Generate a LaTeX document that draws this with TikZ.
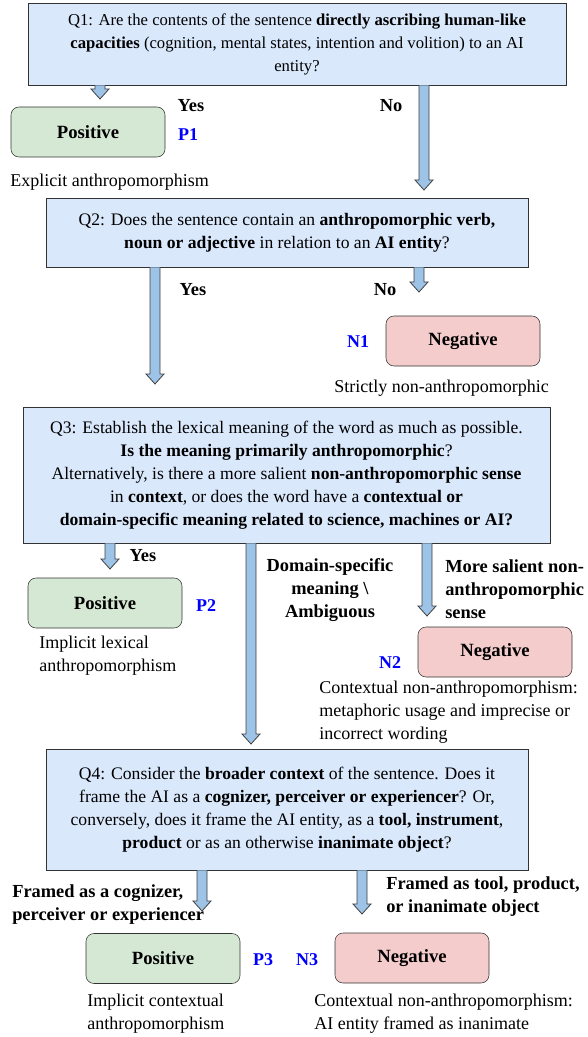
\documentclass[tikz,border=0pt]{standalone}
\usepackage{xcolor}
\usepackage{fontspec}
\setmainfont{Liberation Serif}
\usepackage{tikz}
\usetikzlibrary{calc, positioning}

\definecolor{qblue}{HTML}{DAE8FC}
\definecolor{posgreen}{HTML}{D5E8D4}
\definecolor{negred}{HTML}{F4CCCC}
\definecolor{arrowblue}{HTML}{9DC3E6}
\definecolor{tagblue}{HTML}{0000FF}

% block arrow from #1 down to its tip #2
\newcommand{\blockarrow}[2]{%
  \draw[barrow] let \p1=(#1), \p2=(#2) in
    (\x1-3.75pt,\y1) -- (\x1-3.75pt,\y2+7.5pt) -- (\x1-6.75pt,\y2+7.5pt)
    -- (\x2,\y2) -- (\x1+6.75pt,\y2+7.5pt) -- (\x1+3.75pt,\y2+7.5pt) -- (\x1+3.75pt,\y1);}

\begin{document}
\begin{tikzpicture}[x=0.75pt, y=-0.75pt, font=\fontsize{13.5}{17.25}\selectfont,
    qbox/.style={draw=black!80, fill=qblue, rectangle, align=center, inner sep=0pt, font=\fontsize{13.2}{17.25}\selectfont},
    resbox/.style={draw=black!80, rounded corners=6pt, minimum width=115.5pt, minimum height=37.5pt, font=\fontsize{14}{17.25}\selectfont\bfseries},
    posbox/.style={resbox, fill=posgreen},
    negbox/.style={resbox, fill=negred},
    tag/.style={text=tagblue, font=\fontsize{13.5}{15}\selectfont\bfseries},
    lbl/.style={font=\fontsize{13.8}{17.25}\selectfont\bfseries, align=left, inner sep=0pt},
    note/.style={align=left, inner sep=0pt, anchor=west},
    barrow/.style={draw=black!75, fill=arrowblue, line width=0.6pt, line join=miter}]
  \useasboundingbox (0,0) rectangle (587,1037);

  % questions
  \node[qbox, minimum width=403.5pt, minimum height=61.5pt, font=\fontsize{12.5}{17.25}\selectfont] (q1) at (297,44) {Q1: Are the contents of the sentence \textbf{directly ascribing human-like}\\ \textbf{capacities} (cognition, mental states, intention and volition) to an AI\\ entity?};
  \node[qbox, minimum width=361.5pt, minimum height=51.75pt] (q2) at (287,232.5) {Q2: Does the sentence contain an \textbf{anthropomorphic verb,}\\ \textbf{noun or adjective} in relation to an \textbf{AI entity}?};
  \node[qbox, minimum width=395.25pt, minimum height=102pt] (q3) at (286.5,475) {Q3: Establish the lexical meaning of the word as much as possible.\\ \textbf{Is the meaning primarily anthropomorphic}?\\ Alternatively, is there a more salient \textbf{non-anthropomorphic sense}\\ in \textbf{context}, or does the word have a \textbf{contextual or}\\ \textbf{domain-specific meaning related to science, machines or AI?}};
  \node[qbox, minimum width=361.5pt, minimum height=90.75pt] (q4) at (287,809.5) {Q4: Consider the \textbf{broader context} of the sentence. Does it\\ frame the AI as a \textbf{cognizer, perceiver or experiencer}? Or,\\ conversely, does it frame the AI entity, as a \textbf{tool, instrument},\\ \textbf{product} or as an otherwise \textbf{inanimate object}?};

  % outcomes
  \node[posbox] (pos1) at (88,132) {Positive};
  \node[negbox] (neg1) at (463,341) {Negative};
  \node[posbox] (pos2) at (105,603) {Positive};
  \node[negbox] (neg2) at (495,652) {Negative};
  \node[posbox] (pos3) at (163,958.5) {Positive};
  \node[negbox] (neg3) at (412,958) {Negative};

  \node[tag] (p1) at (188,135) {P1};
  \node[tag] (n1) at (358,342) {N1};
  \node[tag] (p2) at (206,606) {P2};
  \node[tag] (n2) at (390,663) {N2};
  \node[tag] (p3) at (263,960) {P3};
  \node[tag] (n3) at (307,960) {N3};

  \node[note] (d1) at (10,182) {Explicit anthropomorphism};
  \node[note] (d2) at (334,388) {Strictly non-anthropomorphic};
  \node[note] (d3) at (39,656) {Implicit lexical\\ anthropomorphism};
  \node[note] (d4) at (319,712) {Contextual non-anthropomorphism:\\ metaphoric usage and imprecise or\\ incorrect wording};
  \node[note] (d5) at (87,1013.5) {Implicit contextual\\ anthropomorphism};
  \node[note] (d6) at (314,1013.5) {Contextual non-anthropomorphism:\\ AI entity framed as inanimate};

  % answers
  \node[lbl] (yes1) at (191,106) {Yes};
  \node[lbl] (no1) at (391,106) {No};
  \node[lbl] (yes2) at (193,290) {Yes};
  \node[lbl] (no2) at (385,290) {No};
  \node[lbl] (yes3) at (143,556) {Yes};
  \node[lbl, align=center] (amb) at (330,590) {Domain-specific\\ meaning \textbackslash\\ Ambiguous};
  \node[lbl, anchor=west] (sal) at (445,589) {More salient non-\\ anthropomorphic\\ sense};
  \node[lbl, anchor=west] (cog) at (12,904.5) {Framed as a cognizer,\\ perceiver or experiencer};
  \node[lbl, anchor=west] (tool) at (386,896.5) {Framed as tool, product,\\ or inanimate object};

  % arrow tips
  \coordinate (t1) at (100,99);
  \coordinate (t2) at (424,190);
  \coordinate (t3) at (155,384);
  \coordinate (t4) at (419,292);
  \coordinate (t5) at (110,569);
  \coordinate (t6) at (251,744);
  \coordinate (t7) at (427,616);
  \coordinate (t8) at (202,911);
  \coordinate (t9) at (362,914);

  \blockarrow{q1.south -| t1}{t1}
  \blockarrow{q1.south -| t2}{t2}
  \blockarrow{q2.south -| t3}{t3}
  \blockarrow{q2.south -| t4}{t4}
  \blockarrow{q3.south -| t5}{t5}
  \blockarrow{q3.south -| t6}{t6}
  \blockarrow{q3.south -| t7}{t7}
  \blockarrow{q4.south -| t8}{t8}
  \blockarrow{q4.south -| t9}{t9}
\end{tikzpicture}
\end{document}
